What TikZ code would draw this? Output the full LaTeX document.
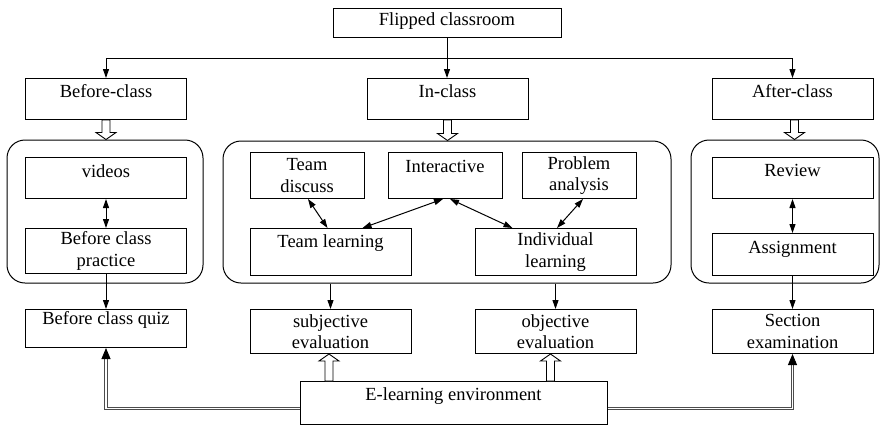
\documentclass[tikz,border=0pt]{standalone}
\usepackage{fontspec}
\setmainfont{Liberation Serif}
\usetikzlibrary{arrows.meta,calc}

\tikzset{
    box/.style={draw, line width=1pt, inner sep=0pt, minimum width=161pt, align=center,
        font=\fontsize{18.5}{21.5}\selectfont, anchor=north},
    smallbox/.style={box, minimum width=114pt},
    grp/.style={draw, line width=1pt, rounded corners=18pt, inner sep=0pt},
    arr/.style={line width=1pt, -{Triangle[length=9pt,width=6pt]}},
    dbl/.style={line width=1pt, {Triangle[length=9pt,width=6pt]}-{Triangle[length=9pt,width=6pt]}},
    hollow/.style={draw, line width=0.9pt, fill=white},
    dline/.style={draw=gray!60!black, double=white, double distance=1.8pt, line width=0.9pt,
        -{Triangle[length=11pt,width=9pt,black]}}
}

% block arrow from #1 to #2 (vertical)
\newcommand{\hollowarrow}[2]{%
    \draw[hollow] let \p1=#1, \p2=#2, \n1={sign(\y2-\y1)*7} in
        ({\x1-4pt},{\y1}) -- ({\x1-4pt},{\y2-(\n1)}) -- ({\x1-10pt},{\y2-(\n1)}) -- ({\x1},{\y2})
        -- ({\x1+10pt},{\y2-(\n1)}) -- ({\x1+4pt},{\y2-(\n1)}) -- ({\x1+4pt},{\y1}) -- cycle;}

\begin{document}
\begin{tikzpicture}[x=1pt, y=-1pt]
    \useasboundingbox (0,0) rectangle (880,426);

    % groups
    \node[grp, minimum width=196pt, minimum height=143pt] (gl) at (105,211.5) {};
    \node[grp, minimum width=448pt, minimum height=142pt] (gm) at (447,212) {};
    \node[grp, minimum width=188pt, minimum height=143pt] (gr) at (785,211.5) {};

    % top
    \node[box, minimum width=228pt, text height=17pt, text depth=12pt] (flip) at (447,8) {Flipped classroom};
    \node[box, text height=19pt, text depth=22pt] (before) at (106,78) {Before-class};
    \node[box, text height=19pt, text depth=22pt] (inclass) at (447.5,78) {In-class};
    \node[box, text height=19pt, text depth=22pt] (after) at (792.5,78) {After-class};

    % before class
    \node[box, text height=20pt, text depth=21pt] (videos) at (106,157) {videos};
    \node[box, minimum height=45pt] (practice) at (106,228) {Before class\\practice};
    \node[box, text height=15pt, text depth=23pt] (quiz) at (106,309) {Before class quiz};

    % in class
    \node[smallbox, minimum height=46pt] (discuss) at (307,152) {Team\\discuss};
    \node[smallbox, text height=20pt, text depth=26pt] (inter) at (445,152) {Interactive};
    \node[smallbox, minimum height=46pt] (problem) at (579,152) {Problem\\analysis};
    \node[box, text height=19pt, text depth=28pt] (team) at (330.5,228) {Team learning};
    \node[box, minimum height=47pt] (indiv) at (555.5,228) {Individual\\learning};
    \node[box, minimum height=44pt] (subj) at (330.5,309) {subjective\\evaluation};
    \node[box, minimum height=44pt] (obj) at (555.5,309) {objective\\evaluation};

    % after class
    \node[box, text height=19pt, text depth=22pt] (review) at (792.5,157) {Review};
    \node[box, text height=20pt, text depth=22pt] (assign) at (792.5,233) {Assignment};
    \node[box, minimum height=44pt] (section) at (792.5,309) {Section\\examination};

    \node[box, minimum width=307pt, text height=19pt, text depth=24pt] (elearn) at (453.5,381) {E-learning environment};

    % connectors
    \coordinate (bar) at (447,58);
    \draw[arr] (flip.south) -- (flip.south |- inclass.north);
    \draw[arr] (bar) -| (before);
    \draw[arr] (bar) -| (after);

    \hollowarrow{(before.south)}{(before.south |- gl.north)}
    \hollowarrow{(inclass.south)}{(inclass.south |- gm.north)}
    \hollowarrow{([xshift=2pt]after.south)}{([xshift=2pt]after.south |- gr.north)}

    \draw[dbl] (videos) -- (practice);
    \draw[arr] (practice) -- (quiz);

    \draw[dbl] ([xshift=-3pt]team.north) -- ([xshift=1pt]discuss.south);
    \draw[dbl] ([xshift=32pt]team.north) -- ([xshift=-2pt]inter.south);
    \draw[dbl] ([xshift=-43pt]indiv.north) -- ([xshift=5pt]inter.south);
    \draw[dbl] ([xshift=1.5pt]indiv.north) -- ([xshift=4pt]problem.south);
    \draw[arr] (gm.south -| subj.north) -- (subj.north);
    \draw[arr] (gm.south -| obj.north) -- (obj.north);

    \draw[dbl] (review) -- (assign);
    \draw[arr] (assign) -- (section);

    \hollowarrow{([xshift=-1.5pt]elearn.north -| subj.south)}{([xshift=-1.5pt]subj.south)}
    \hollowarrow{([xshift=-5pt]elearn.north -| obj.south)}{([xshift=-5pt]obj.south)}
    \draw[dline] ([yshift=-5.5pt]elearn.west) -| (quiz.south);
    \draw[dline] ([yshift=-5.5pt]elearn.east) -| (section.south);
\end{tikzpicture}
\end{document}
